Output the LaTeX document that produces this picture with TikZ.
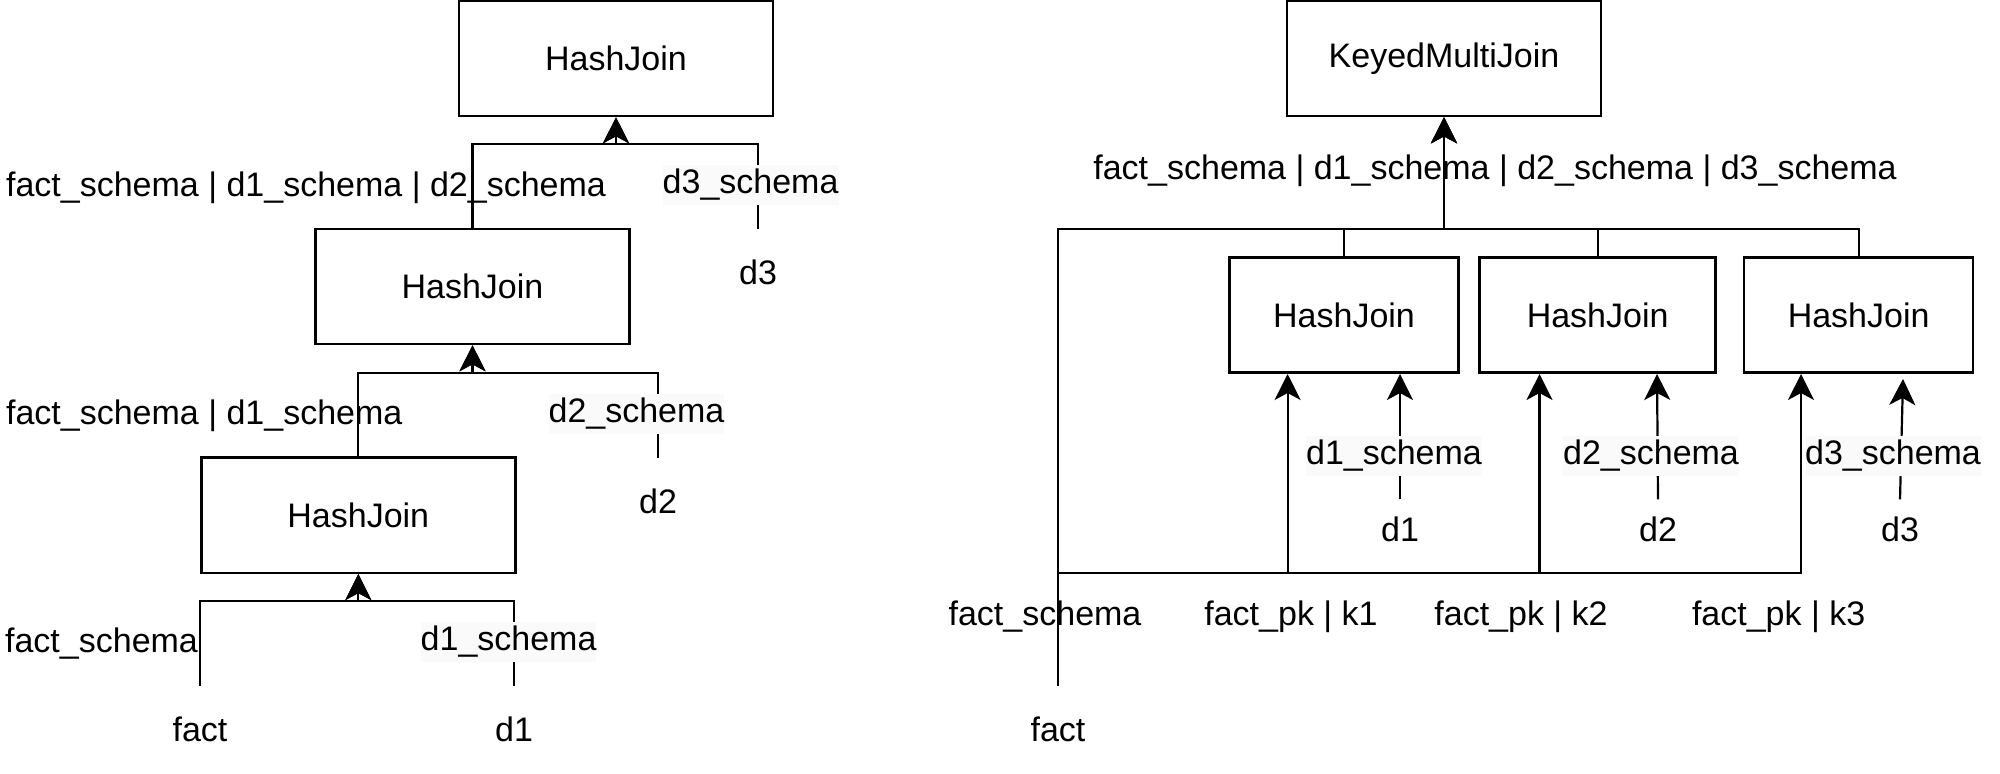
\documentclass[tikz,border=0pt]{standalone}
\usepackage{fontspec}
\setmainfont{Liberation Sans}
\usetikzlibrary{arrows.meta}
\begin{document}
\begin{tikzpicture}[x=0.5pt,y=-0.5pt,
  font=\fontsize{17}{20}\selectfont, line width=1.1pt,
  box/.style={draw, line width=1.3pt, minimum width=157pt, minimum height=57.5pt, inner sep=0pt},
  sbox/.style={box, minimum width=114.5pt},
  txt/.style={inner sep=0pt, minimum height=42pt},
  stxt/.style={inner sep=0pt, minimum height=28.5pt},
  lbl/.style={inner sep=0pt},
  bglbl/.style={inner sep=0pt, fill=black!2, minimum height=20pt},
  arr/.style={-{Stealth[length=13pt,width=13pt,inset=3.5pt]}}]
\useasboundingbox (0,0) rectangle (2000,774);

% ---------- left diagram ----------
\node[box] (hjA) at (616,58.5) {HashJoin};
\node[box] (hjB) at (472.5,286.5) {HashJoin};
\node[box] (hjC) at (358.3,515.3) {HashJoin};
\node[txt] (factL) at (200,729) {fact};
\node[txt] (d1L) at (514,729) {d1};
\node[txt] (d2L) at (658,501) {d2};
\node[txt] (d3L) at (758,272) {d3};

\coordinate (jC) at (358.3,601);
\coordinate (jB) at (472.5,372.7);
\coordinate (jA) at (616,144);

\draw[arr] (factL.north) |- (jC) -- (hjC.south);
\draw[arr] (d1L.north) |- (jC) -- (hjC.south);
\draw[arr] (hjC.north) |- (jB) -- (hjB.south);
\draw[arr] (d2L.north) |- (jB) -- (hjB.south);
\draw[arr] (hjB.north) |- (jA) -- (hjA.south);
\draw[arr] (d3L.north) |- (jA) -- (hjA.south);

\node[lbl, anchor=east] (lfs) at (199,644) {fact\_schema};
\node[bglbl] (ld1) at (508.6,642) {d1\_schema};
\node[lbl, anchor=west] (lfd1) at (5,416) {fact\_schema | d1\_schema};
\node[bglbl] (ld2) at (636.5,414) {d2\_schema};
\node[lbl, anchor=west] (lfd12) at (5,188) {fact\_schema | d1\_schema | d2\_schema};
\node[bglbl] (ld3) at (750.6,185) {d3\_schema};

% ---------- right diagram ----------
\node[box] (kmj) at (1444,58.5) {KeyedMultiJoin};
\node[sbox] (hj1) at (1344,315.2) {HashJoin};
\node[sbox, minimum width=118pt] (hj2) at (1597.6,315.2) {HashJoin};
\node[sbox] (hj3) at (1858.6,315.2) {HashJoin};
\node[txt] (factR) at (1058,729) {fact};
\node[stxt] (d1R) at (1400,529) {d1};
\node[stxt] (d2R) at (1658,529) {d2};
\node[stxt] (d3R) at (1900,529) {d3};

\coordinate (jTop) at (1444,229);
\coordinate (jL1) at (1287.6,572.6);
\coordinate (jL2) at (1539.5,572.6);
\coordinate (jL3) at (1801,572.6);

\draw[arr] (factR.north) |- (jTop) -- (kmj.south);
\draw[arr] (hj1.north) |- (jTop) -- (kmj.south);
\draw[arr] (hj2.north) |- (jTop) -- (kmj.south);
\draw[arr] (hj3.north) |- (jTop) -- (kmj.south);

\draw[arr] (factR.north) |- (jL1) -- (jL1 |- hj1.south);
\draw[arr] (factR.north) |- (jL2) -- (jL2 |- hj2.south);
\draw[arr] (factR.north) |- (jL3) -- (jL3 |- hj3.south);

\draw[arr] (d1R.north) -- (d1R.north |- hj1.south);
\draw[arr] (d2R.north) -- ([xshift=-0.5pt]d2R.north |- hj2.south);
\draw[arr] (d3R.north) -- ([xshift=1.5pt,yshift=-2.5pt]d3R.north |- hj3.south);

\node[lbl] (lall) at (1495,171) {fact\_schema | d1\_schema | d2\_schema | d3\_schema};
\node[lbl] (lfsR) at (1045,617) {fact\_schema};
\node[lbl] (lk1) at (1291,617) {fact\_pk | k1};
\node[lbl] (lk2) at (1521,617) {fact\_pk | k2};
\node[lbl] (lk3) at (1778.6,617) {fact\_pk | k3};
\node[bglbl] (lr1) at (1394,456) {d1\_schema};
\node[bglbl] (lr2) at (1651,456) {d2\_schema};
\node[bglbl] (lr3) at (1893,456) {d3\_schema};
\end{tikzpicture}
\end{document}
